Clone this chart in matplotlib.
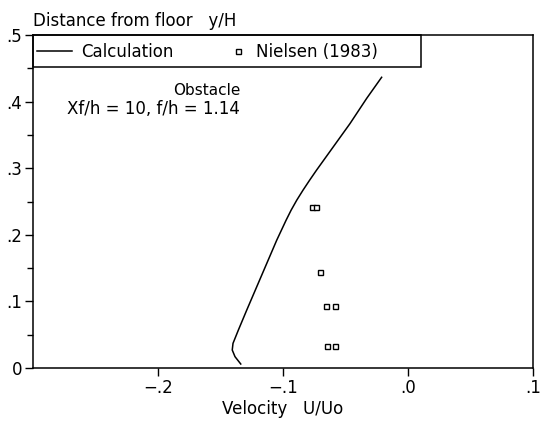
import numpy as np
import matplotlib
matplotlib.use("Agg")
import matplotlib.pyplot as plt
from matplotlib.ticker import FixedLocator, FixedFormatter
from matplotlib.patches import Rectangle

# calculated velocity profile
calc_u = [-0.1338, -0.1384, -0.1406, -0.140, -0.1357, -0.129, -0.121,
          -0.113, -0.105, -0.0975, -0.0935, -0.089, -0.084, -0.0787,
          -0.0732, -0.0598, -0.0464, -0.033, -0.0211]
calc_y = [0.006, 0.017, 0.027, 0.037, 0.057, 0.087, 0.122,
          0.157, 0.192, 0.222, 0.237, 0.252, 0.267, 0.282,
          0.297, 0.332, 0.367, 0.405, 0.4365]

# Nielsen (1983) measurements
meas_u = [-0.0771, -0.0736, -0.0704, -0.0659, -0.0584, -0.065, -0.0584]
meas_y = [0.242, 0.242, 0.1446, 0.093, 0.093, 0.033, 0.033]

xticks = [-0.2, -0.1, 0.0, 0.1]
xlabels = ['\u2212.2', '\u2212.1', '.0', '.1']
yticks = [0, 0.1, 0.2, 0.3, 0.4, 0.5]
ylabels = ['0', '.1', '.2', '.3', '.4', '.5']

plt.rcParams['font.family'] = 'DejaVu Sans'
plt.rcParams['font.size'] = 12

fig = plt.figure(figsize=(5.43, 4.21), dpi=100)
ax = fig.add_axes([33/543, 1 - 368/421, 500/543, 333/421])

calc, = ax.plot(calc_u, calc_y, color='black', lw=1.1)
meas, = ax.plot(meas_u, meas_y, ls='none', marker='s', ms=3.6, mfc='white',
                mec='black', mew=1.0)

ax.set_xlim(-0.3, 0.1)
ax.set_ylim(0, 0.5)
ax.xaxis.set_major_locator(FixedLocator(xticks))
ax.xaxis.set_major_formatter(FixedFormatter(xlabels))
ax.yaxis.set_major_locator(FixedLocator(yticks))
ax.yaxis.set_major_formatter(FixedFormatter(ylabels))
ax.yaxis.set_minor_locator(FixedLocator([0.05, 0.15, 0.25, 0.35, 0.45]))
ax.tick_params(axis='both', which='major', direction='out', length=6,
               width=1, pad=2, labelsize=12)
ax.tick_params(axis='y', which='minor', direction='out', length=4, width=1)
for s in ax.spines.values():
    s.set_linewidth(1.1)

ax.set_xlabel('Velocity   U/Uo', fontsize=12, labelpad=2)
fig.text(33/543, 1 - 21/421, 'Distance from floor   y/H', fontsize=12,
         ha='left', va='center')

ax.text(-0.1344, 0.405, 'Obstacle', fontsize=11, ha='right', va='bottom')
ax.text(-0.1344, 0.389, 'Xf/h = 10, f/h = 1.14', fontsize=12,
        ha='right', va='center')

# legend box across the top
ax.add_patch(Rectangle((0, 1 - 32/333), 388/500, 32/333, transform=ax.transAxes,
                       fill=False, ec='black', lw=1.1, clip_on=False))
leg1 = ax.legend([calc], ['Calculation'], loc='center left',
                 bbox_to_anchor=(3.5/500, 1 - 17/333), frameon=False,
                 borderaxespad=0, borderpad=0, handlelength=2.1,
                 handletextpad=0.6, fontsize=12)
ax.add_artist(leg1)
ax.legend([meas], ['Nielsen (1983)'], loc='center left',
          bbox_to_anchor=(197/500, 1 - 17/333), frameon=False,
          borderaxespad=0, borderpad=0, handlelength=1.0,
          handletextpad=0.55, fontsize=12)

fig.savefig('out.png', dpi=100)
